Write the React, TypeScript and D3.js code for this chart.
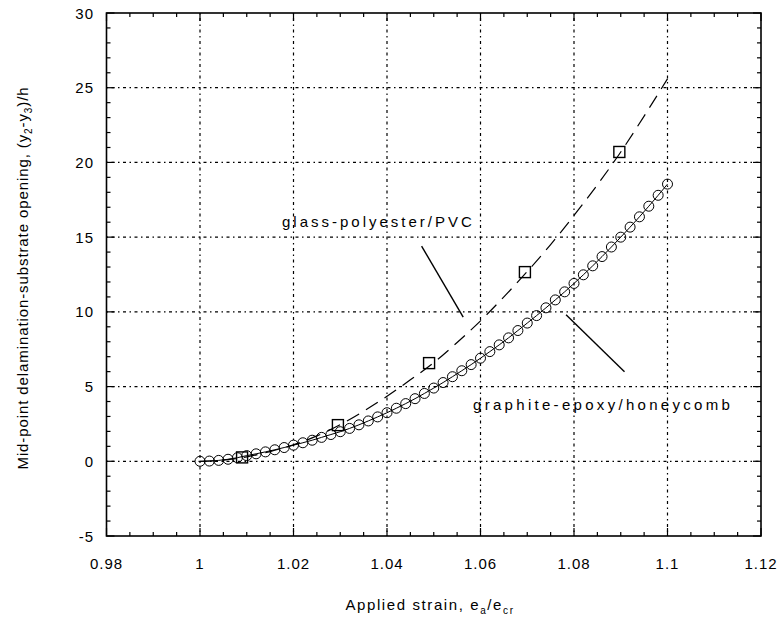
import React from "react";
import * as d3 from "d3";

// graphite-epoxy/honeycomb (circles), x step 0.002
const graphiteX = d3.range(0, 51).map((i) => +(1 + i * 0.002).toFixed(3));
const graphiteY = [
  0, 0.015, 0.06, 0.135, 0.24, 0.38,
  0.5, 0.63, 0.77, 0.92, 1.08,
  1.24, 1.41, 1.6, 1.79, 1.98,
  2.2, 2.44, 2.7, 2.97, 3.25,
  3.55, 3.86, 4.19, 4.54, 4.9,
  5.27, 5.66, 6.06, 6.47, 6.9,
  7.34, 7.79, 8.26, 8.75, 9.25,
  9.75, 10.27, 10.8, 11.34, 11.9,
  12.48, 13.08, 13.7, 14.34, 15.0,
  15.67, 16.36, 17.07, 17.8, 18.55,
];

// glass-polyester/PVC (dashed line + squares)
const glassX = [1, 1.005, 1.01, 1.015, 1.02, 1.025, 1.03, 1.035, 1.04, 1.045, 1.05,
  1.055, 1.06, 1.065, 1.07, 1.075, 1.08, 1.085, 1.09, 1.095, 1.1];
const glassY = [0, 0.08, 0.3, 0.65, 1.1, 1.7, 2.45, 3.35, 4.35, 5.45, 6.6,
  7.95, 9.4, 11.0, 12.7, 14.5, 16.45, 18.5, 20.7, 23.1, 25.6];
const squareX = [1.009, 1.0295, 1.049, 1.0695, 1.0897];
const squareY = [0.26, 2.42, 6.57, 12.66, 20.7];

const xTicks = [0.98, 1, 1.02, 1.04, 1.06, 1.08, 1.1, 1.12];
const yTicks = [-5, 0, 5, 10, 15, 20, 25, 30];

const W = 783;
const H = 637;
const left = 106.5, right = 761, top = 13, bottom = 536;

const x = d3.scaleLinear().domain([0.98, 1.12]).range([left, right]);
const y = d3.scaleLinear().domain([-5, 30]).range([bottom, top]);

const font = "Arial, 'Liberation Sans', Helvetica, sans-serif";
const grid = "1.5 3.5 3 3.5";

export default function App() {
  const line = d3.line<number>().x((d, i) => x(graphiteX[i])).y((d) => y(d));
  const glassLine = d3.line<number>().x((d, i) => x(glassX[i])).y((d) => y(d)).curve(d3.curveMonotoneX);
  const xMinor = d3.range(0, 29).map((i) => 0.98 + i * 0.005);
  const yMinor = d3.range(-5, 31);
  const fmt = (v: number) => String(+v.toFixed(2));

  return (
    <svg width={W} height={H} style={{ position: "absolute", left: 0, top: 0, background: "#fff" }}>
      {/* grid */}
      {xTicks.slice(1, -1).map((t) => (
        <line key={"gx" + t} x1={x(t)} x2={x(t)} y1={top} y2={bottom} stroke="#000" strokeWidth={1.2} strokeDasharray={grid} />
      ))}
      {yTicks.slice(1, -1).map((t) => (
        <line key={"gy" + t} x1={left} x2={right} y1={y(t)} y2={y(t)} stroke="#000" strokeWidth={1.2} strokeDasharray={grid} />
      ))}

      {/* minor / major ticks on all four sides */}
      {xMinor.map((t, i) => {
        const len = i % 4 === 0 ? 8 : 4;
        return (
          <g key={"xt" + i} stroke="#000" strokeWidth={1.2}>
            <line x1={x(t)} x2={x(t)} y1={bottom} y2={bottom - len} />
            <line x1={x(t)} x2={x(t)} y1={top} y2={top + len} />
          </g>
        );
      })}
      {yMinor.map((t) => {
        const len = t % 5 === 0 ? 8 : 4;
        return (
          <g key={"yt" + t} stroke="#000" strokeWidth={1.2}>
            <line x1={left} x2={left + len} y1={y(t)} y2={y(t)} />
            <line x1={right} x2={right - len} y1={y(t)} y2={y(t)} />
          </g>
        );
      })}

      <rect x={left} y={top} width={right - left} height={bottom - top} fill="none" stroke="#000" strokeWidth={1.6} />

      {/* tick labels */}
      {xTicks.map((t) => (
        <text key={"xl" + t} x={x(t)} y={569} textAnchor="middle" fontFamily={font} fontSize={15} letterSpacing={1}>
          {fmt(t)}
        </text>
      ))}
      {yTicks.map((t) => (
        <text key={"yl" + t} x={94} y={y(t) + 5.5} textAnchor="end" fontFamily={font} fontSize={15} letterSpacing={1}>
          {t}
        </text>
      ))}

      {/* axis titles */}
      <text x={430} y={610} textAnchor="middle" fontFamily={font} fontSize={15} letterSpacing={1.6}>
        Applied strain, e<tspan dy={4} fontSize={10}>a</tspan>
        <tspan dy={-4}>/e</tspan>
        <tspan dy={4} fontSize={10}>cr</tspan>
      </text>
      <text transform={`translate(28, ${278}) rotate(-90)`} textAnchor="middle" fontFamily={font} fontSize={15} letterSpacing={0.9}>
        Mid-point delamination-substrate opening, (y<tspan dy={4} fontSize={10}>2</tspan>
        <tspan dy={-4}>-y</tspan>
        <tspan dy={4} fontSize={10}>3</tspan>
        <tspan dy={-4}>)/h</tspan>
      </text>

      {/* glass-polyester/PVC */}
      <path d={glassLine(glassY) || ""} fill="none" stroke="#000" strokeWidth={1.2} strokeDasharray="14 8" />
      {squareY.map((v, i) => (
        <rect key={"sq" + i} x={x(squareX[i]) - 5.5} y={y(v) - 5.5} width={11} height={11} fill="none" stroke="#000" strokeWidth={1.4} />
      ))}

      {/* graphite-epoxy/honeycomb */}
      <path d={line(graphiteY) || ""} fill="none" stroke="#000" strokeWidth={1} />
      {graphiteY.map((v, i) => (
        <circle key={"c" + i} cx={x(graphiteX[i])} cy={y(v)} r={5} fill="none" stroke="#000" strokeWidth={1} />
      ))}

      {/* annotations */}
      <line x1={x(1.0474)} y1={y(14.4)} x2={x(1.0563)} y2={y(9.65)} stroke="#000" strokeWidth={1.4} />
      <text x={x(1.0588)} y={y(15.68)} textAnchor="end" fontFamily={font} fontSize={15} letterSpacing={3}>
        glass-polyester/PVC
      </text>
      <line x1={x(1.0783)} y1={y(9.8)} x2={x(1.0908)} y2={y(6.0)} stroke="#000" strokeWidth={1.4} />
      <text x={x(1.0584)} y={y(3.43)} fontFamily={font} fontSize={15} letterSpacing={3.3}>
        graphite-epoxy/honeycomb
      </text>
    </svg>
  );
}
